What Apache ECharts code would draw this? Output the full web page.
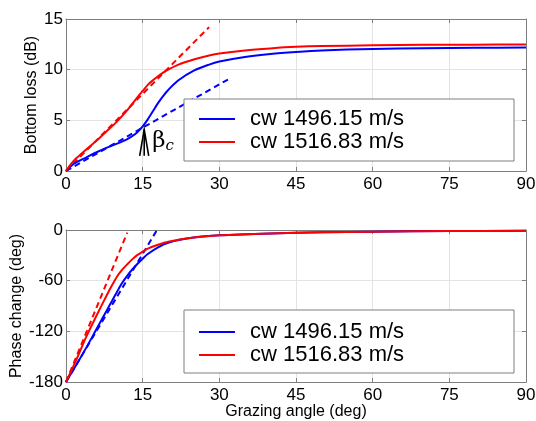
<!DOCTYPE html>
<html>
<head>
<meta charset="utf-8">
<script src="https://cdn.jsdelivr.net/npm/echarts@6/dist/echarts.min.js"></script>
<style>html,body{margin:0;padding:0;background:#fff}#c{width:536px;height:421px}</style>
</head>
<body>
<div id="c"></div>
<script>
// ---- data ----
const seriesNames = ['cw 1496.15 m/s', 'cw 1516.83 m/s'];
const xTicks = [0, 15, 30, 45, 60, 75, 90];

// Bottom loss (dB) vs grazing angle (deg)
const lossAngles = [0, 1, 2, 4, 6, 8, 10, 12, 13, 14, 15, 16, 17, 18, 19, 20, 22, 25, 28, 30, 35, 40, 45, 50, 60, 70, 80, 90];
const lossBlue   = [0, 0.5, 0.85, 1.35, 1.85, 2.3, 2.7, 3.15, 3.45, 3.85, 4.4, 5.1, 5.9, 6.7, 7.4, 8.0, 8.95, 9.9, 10.5, 10.8, 11.25, 11.55, 11.75, 11.9, 12.05, 12.12, 12.16, 12.18];
const lossRed    = [0, 0.7, 1.25, 2.15, 3.0, 3.95, 4.9, 6.0, 6.65, 7.3, 7.9, 8.5, 8.95, 9.35, 9.7, 10.0, 10.5, 11.0, 11.4, 11.6, 11.9, 12.1, 12.25, 12.33, 12.4, 12.45, 12.47, 12.48];
const lossBlueAsym = [[0, 0], [32.3, 9.2]];
const lossRedAsym  = [[0, 0], [28, 14.2]];

// Phase change (deg) vs grazing angle (deg)
const phaseAngles = [0, 2, 4, 6, 8, 9, 10, 11, 12, 13, 14, 15, 16, 18, 20, 25, 30, 40, 50, 60, 75, 90];
const phaseBlue   = [-180, -160, -139, -117, -95, -84, -73, -62.5, -54, -46.5, -40, -34, -28.5, -20.5, -15, -9, -6.3, -4, -2.8, -2, -1.3, -0.8];
const phaseRed    = [-180, -154, -126, -101, -77, -65.5, -55, -47, -40.5, -34.5, -29.5, -25.5, -22, -17.5, -14, -9, -6.2, -4, -2.8, -2, -1.3, -0.8];
const phaseBlueAsym = [[0, -180], [17.7, -1]];
const phaseRedAsym  = [[0, -180], [12, -3]];

const betaAngle = 15.3;   // critical angle marker
const betaTip = 4.1, betaBase = 1.5;

const blue = '#0000ff', red = '#ff0000';
const FONT = 'Liberation Sans, Arial, sans-serif';
const axisGray = '#7f7f7f';

function pair(xs, ys) { return xs.map((x, i) => [x, ys[i]]); }

const chart = echarts.init(document.getElementById('c'), null, {renderer: 'canvas'});

function xAx(gi, showName) {
  return [{
    type: 'value', gridIndex: gi, min: 0, max: 90, interval: 15,
    axisLine: {show: true, onZero: false, lineStyle: {color: axisGray, width: 1}},
    axisTick: {show: true, inside: true, length: 4, lineStyle: {color: axisGray}},
    axisLabel: {color: '#000', fontSize: 17, fontFamily: FONT, margin: 5},
    splitLine: {show: true, lineStyle: {color: '#e3e3e3', width: 1}},
    name: showName ? 'Grazing angle (deg)' : '', nameLocation: 'middle', nameGap: 22, nameMoveOverlap: false,
    nameTextStyle: {color: '#000', fontSize: 16, fontFamily: FONT}
  }, {
    type: 'value', gridIndex: gi, position: 'top', min: 0, max: 90, interval: 15,
    axisLine: {show: true, onZero: false, lineStyle: {color: axisGray}},
    axisTick: {show: true, inside: true, length: 4, lineStyle: {color: axisGray}},
    axisLabel: {show: false}, splitLine: {show: false}
  }];
}
function yAx(gi, min, max, interval, name, gap) {
  return [{
    type: 'value', gridIndex: gi, min: min, max: max, interval: interval,
    axisLine: {show: true, onZero: false, lineStyle: {color: axisGray}},
    axisTick: {show: true, inside: true, length: 4, lineStyle: {color: axisGray}},
    axisLabel: {color: '#000', fontSize: 17, fontFamily: FONT, margin: 3},
    splitLine: {show: true, lineStyle: {color: '#e3e3e3', width: 1}},
    name: name, nameLocation: 'middle', nameGap: gap, nameRotate: 90, nameMoveOverlap: false,
    nameTextStyle: {color: '#000', fontSize: 16, fontFamily: FONT}
  }, {
    type: 'value', gridIndex: gi, position: 'right', min: min, max: max, interval: interval,
    axisLine: {show: true, onZero: false, lineStyle: {color: axisGray}},
    axisTick: {show: true, inside: true, length: 4, lineStyle: {color: axisGray}},
    axisLabel: {show: false}, splitLine: {show: false}
  }];
}

function line(name, data, color, xi, yi, dashed) {
  return {
    type: 'line', name: dashed ? undefined : name, data: data, xAxisIndex: xi, yAxisIndex: yi,
    smooth: dashed ? false : 0.3, symbol: 'none', silent: true, z: dashed ? 3 : 4,
    lineStyle: {color: color, width: 2, type: dashed ? [6, 4] : 'solid'},
    itemStyle: {color: color}
  };
}

const legendCommon = {
  orient: 'vertical', left: 194, itemWidth: 36, itemHeight: 12, itemGap: 1,
  icon: 'path://M0,5 L36,5 L36,7 L0,7 Z',
  textStyle: {color: '#000', fontSize: 22, fontFamily: FONT, lineHeight: 20, padding: [0, 0, 0, 10]},
  data: seriesNames, backgroundColor: 'transparent', borderWidth: 0, z: 10
};

const option = {
  animation: false,
  backgroundColor: '#fff',
  grid: [
    {left: 66, top: 19, width: 460, height: 152, containLabel: false, outerBoundsMode: 'none'},
    {left: 66, top: 230, width: 460, height: 152, containLabel: false, outerBoundsMode: 'none'}
  ],
  xAxis: [].concat(xAx(0, false), xAx(1, true)),
  yAxis: [].concat(yAx(0, 0, 15, 5, 'Bottom loss (dB)', 26), yAx(1, -180, 0, 60, 'Phase change (deg)', 41)),
  legend: [
    Object.assign({}, legendCommon, {top: 103}),
    Object.assign({}, legendCommon, {top: 316})
  ],
  series: [
    line(seriesNames[1], lossRedAsym, red, 0, 0, true),
    line(seriesNames[0], lossBlueAsym, blue, 0, 0, true),
    line(seriesNames[0], pair(lossAngles, lossBlue), blue, 0, 0, false),
    line(seriesNames[1], pair(lossAngles, lossRed), red, 0, 0, false),
    line(seriesNames[1], phaseRedAsym, red, 2, 2, true),
    line(seriesNames[0], phaseBlueAsym, blue, 2, 2, true),
    line(seriesNames[0], pair(phaseAngles, phaseBlue), blue, 2, 2, false),
    line(seriesNames[1], pair(phaseAngles, phaseRed), red, 2, 2, false)
  ]
};
chart.setOption(option);

// legend boxes and beta_c annotation
const tip = chart.convertToPixel({xAxisIndex: 0, yAxisIndex: 0}, [betaAngle, betaTip]);
const base = chart.convertToPixel({xAxisIndex: 0, yAxisIndex: 0}, [betaAngle, betaBase]);
chart.setOption({
  graphic: [
    {type: 'rect', shape: {x: 184, y: 99, width: 330, height: 62}, style: {fill: '#fff', stroke: '#7f7f7f', lineWidth: 1}, z: 5, silent: true},
    {type: 'rect', shape: {x: 184, y: 310, width: 330, height: 63}, style: {fill: '#fff', stroke: '#7f7f7f', lineWidth: 1}, z: 5, silent: true},
    {type: 'polyline', shape: {points: [[tip[0] - 4.5, base[1]], tip, [tip[0] + 4.5, base[1]]]}, style: {stroke: '#000', lineWidth: 1.6, fill: null}, z: 6},
    {type: 'line', shape: {x1: tip[0], y1: tip[1], x2: base[0], y2: base[1]}, style: {stroke: '#000', lineWidth: 1.6}, z: 6},
    {type: 'text', x: tip[0] + 8, y: (tip[1] + base[1]) / 2 - 14,
     style: {text: '{b|β}{c|c}', rich: {b: {fontSize: 23, fontFamily: 'DejaVu Serif, serif', fill: '#000'}, c: {fontSize: 15, fontStyle: 'italic', fontFamily: 'DejaVu Serif, serif', fill: '#000', padding: [10, 0, 0, 0]}}}, z: 6}
  ]
});
</script>
</body>
</html>
